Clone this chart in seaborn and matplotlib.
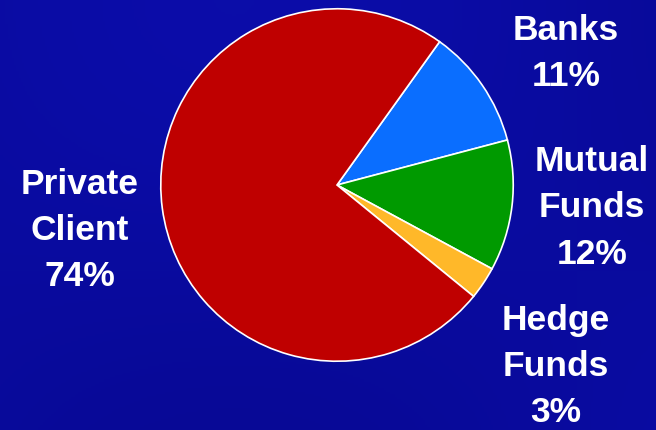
import matplotlib
matplotlib.use("Agg")
import matplotlib.pyplot as plt
import seaborn as sns
import numpy as np

# Data
categories = ["Banks", "Mutual Funds", "Hedge Funds", "Private Client"]
shares = [11, 12, 3, 74]
labels = ["Banks\n11%", "Mutual\nFunds\n12%", "Hedge\nFunds\n3%", "Private\nClient\n74%"]
colors = ["#0A6EFF", "#009A00", "#FFB829", "#BF0000"]

sns.set_theme(style="white")
plt.rcParams['font.family'] = ['Liberation Sans', 'DejaVu Sans']

W, H = 656, 431
fig = plt.figure(figsize=(W / 100, H / 100), dpi=100)
fig.patch.set_facecolor("#0A0BA2")

# subtle background texture
bg = fig.add_axes([0, 0, 1, 1])
yy, xx = np.mgrid[0:1:200j, 0:1:300j]
grad = 0.5 + 0.2 * np.sin(xx * 3.0 + 0.5) * np.cos(yy * 2.5)
bg.imshow(grad, cmap=matplotlib.colors.LinearSegmentedColormap.from_list(
    "b", ["#07088F", "#0C0EAE"]), aspect="auto", extent=[0, 1, 0, 1], vmin=0.2, vmax=0.8)
bg.set_axis_off()

cx, cy, r = 337, 186, 178
ax = fig.add_axes([(cx - r) / W, (H - cy - r) / H, 2 * r / W, 2 * r / H])
ax.pie(shares, colors=colors, startangle=54.4, counterclock=False,
       wedgeprops=dict(edgecolor="white", linewidth=1.2), radius=1.0)
ax.set_xlim(-1.01, 1.01)
ax.set_ylim(-1.01, 1.01)
ax.set_axis_off()

label_pos = [(566, 53), (592, 208), (556, 367), (80, 231)]
for lab, (px, py) in zip(labels, label_pos):
    fig.text(px / W, 1 - py / H, lab, ha="center", va="center", color="white",
             fontsize=25.5, fontweight="bold", linespacing=1.5, multialignment="center")

fig.savefig("out.png", dpi=100, facecolor=fig.get_facecolor())
